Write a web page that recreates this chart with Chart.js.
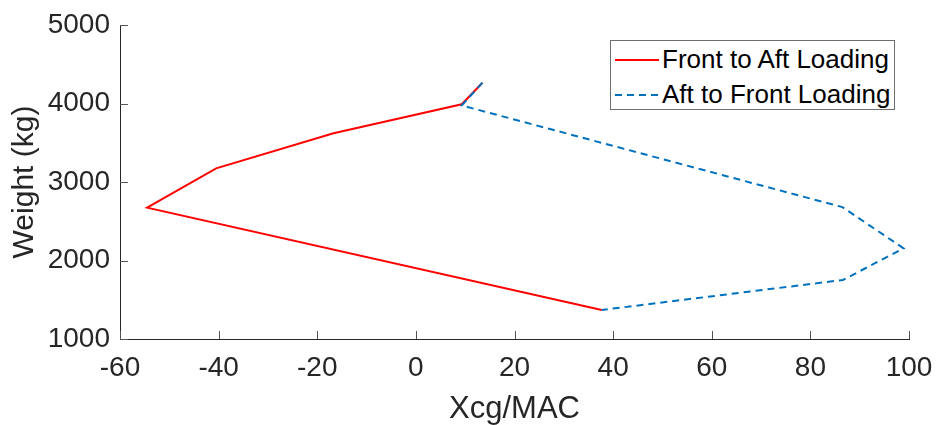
<!DOCTYPE html>
<html lang="en">
  <head>
    <meta charset="UTF-8" />
    <title>Weight vs Xcg/MAC</title>
    <script src="https://cdn.jsdelivr.net/npm/chart.js@4.4.1/dist/chart.umd.min.js"></script>
    <style>
      body { margin: 0; background: #fff; }
      #wrap { position: relative; width: 936px; height: 425px; }
      #legend {
        position: absolute; left: 610px; top: 40px; width: 283px; height: 68px;
        border: 1px solid #6e6e6e; background: #fff;
        font-family: "Liberation Sans", Arial, sans-serif; font-size: 26px; line-height: 26px; color: #000;
      }
      #legend .row { position: absolute; left: 0; }
      #legend svg { position: absolute; left: 4px; }
      #legend span { position: absolute; left: 51px; white-space: nowrap; }
    </style>
  </head>
  <body>
    <div id="wrap">
      <canvas id="cg_chart" width="936" height="425"></canvas>
      <div id="legend">
        <div class="row" style="top:5px">
          <svg width="44" height="26"><line x1="0" y1="14" x2="44" y2="14" stroke="#ff0000" stroke-width="2" /></svg>
          <span>Front to Aft Loading</span>
        </div>
        <div class="row" style="top:40px">
          <svg width="44" height="26"><line x1="0" y1="14" x2="44" y2="14" stroke="#0072bd" stroke-width="2" stroke-dasharray="7,5" /></svg>
          <span>Aft to Front Loading</span>
        </div>
      </div>
    </div>
    <script>
      // values
      var frontAftX = [37.7, -54.5, -40.5, -16.7, 9.3, 13.5]
      var frontAftW = [1370, 2673, 3174, 3620, 3990, 4265]
      var aftFrontX = [13.5, 9.3, 86.5, 98.9, 86.6, 37.7]
      var aftFrontW = [4265, 3975, 2680, 2155, 1752, 1370]
      var xTicks = [-60, -40, -20, 0, 20, 40, 60, 80, 100]
      var yTicks = [1000, 2000, 3000, 4000, 5000]

      var toPoints = (xs, ys) => xs.map((x, i) => ({x: x, y: ys[i]}))
      var font = "'Liberation Sans', Arial, sans-serif"
      var axisColor = "#262626"

      // matlab style ticks pointing into the plot
      var innerTicks = {
        id: "innerTicks",
        afterDraw: (chart) => {
          var ctx = chart.ctx
          var xs = chart.scales.x
          var ys = chart.scales.y
          var area = chart.chartArea
          ctx.save()
          ctx.strokeStyle = "#555"
          ctx.lineWidth = 1
          ctx.beginPath()
          xTicks.forEach(v => {
            var px = Math.round(xs.getPixelForValue(v)) + 0.5
            ctx.moveTo(px, area.bottom)
            ctx.lineTo(px, area.bottom - 8)
          })
          yTicks.forEach(v => {
            var py = Math.round(ys.getPixelForValue(v)) + 0.5
            ctx.moveTo(area.left, py)
            ctx.lineTo(area.left + 8, py)
          })
          ctx.stroke()
          ctx.restore()
        }
      }

      const cgChart = new Chart("cg_chart", {
        type: "line",
        data: {
          datasets: [
            {
              label: "Front to Aft Loading",
              data: toPoints(frontAftX, frontAftW),
              borderColor: "#ff0000",
              borderWidth: 2,
              pointRadius: 0,
              tension: 0,
              order: 1
            },
            {
              label: "Aft to Front Loading",
              data: toPoints(aftFrontX, aftFrontW),
              borderColor: "#0072bd",
              borderWidth: 2,
              borderDash: [7, 5],
              pointRadius: 0,
              tension: 0,
              order: 0
            }
          ]
        },
        options: {
          responsive: false,
          animation: false,
          clip: false,
          layout: { padding: { top: 25, right: 27, left: 0, bottom: 0 } },
          plugins: { legend: { display: false }, tooltip: { enabled: false } },
          scales: {
            x: {
              type: "linear",
              min: -60,
              max: 100,
              afterBuildTicks: (s) => { s.ticks = xTicks.map(v => ({value: v})) },
              afterFit: (s) => { s.height = 86; s.paddingLeft = 0; s.paddingRight = 0 },
              grid: { display: false, drawTicks: false },
              border: { display: true, color: axisColor, width: 1 },
              ticks: { color: axisColor, font: { family: font, size: 28 }, padding: 12, maxRotation: 0 },
              title: { display: true, text: "Xcg/MAC", color: axisColor, font: { family: font, size: 31, lineHeight: 1 }, padding: 0 }
            },
            y: {
              min: 1000,
              max: 5000,
              afterBuildTicks: (s) => { s.ticks = yTicks.map(v => ({value: v})) },
              afterFit: (s) => { s.width = 120; s.paddingTop = 0; s.paddingBottom = 0 },
              grid: { display: false, drawTicks: false },
              border: { display: true, color: axisColor, width: 1 },
              ticks: { color: axisColor, font: { family: font, size: 28 }, padding: 10, callback: (v) => String(v) },
              title: { display: true, text: "Weight (kg)", color: axisColor, font: { family: font, size: 30, lineHeight: 1 }, padding: { top: 10 } }
            }
          }
        },
        plugins: [innerTicks]
      })
    </script>
  </body>
</html>
